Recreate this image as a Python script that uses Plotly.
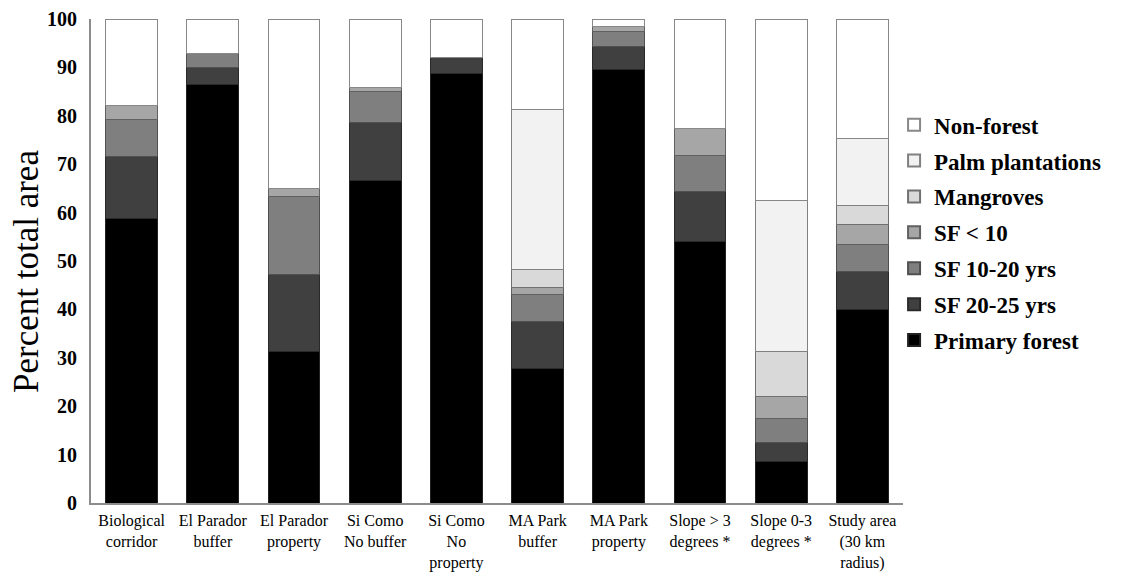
import plotly.graph_objects as go

categories = [
    "Biological<br>corridor", "El Parador<br>buffer", "El Parador<br>property",
    "Si Como<br>No buffer", "Si Como<br>No<br>property", "MA Park<br>buffer",
    "MA Park<br>property", "Slope > 3<br>degrees *", "Slope 0-3<br>degrees *",
    "Study area<br>(30 km<br>radius)",
]

primary_forest   = [58.7, 86.5, 31.4, 66.6, 88.8, 27.7, 89.6, 54.0, 8.6, 39.9]
sf_20_25         = [12.9, 3.4, 15.9, 12.0, 3.2, 9.7, 4.7, 10.3, 3.8, 7.9]
sf_10_20         = [7.7, 3.0, 16.0, 6.4, 0.0, 5.7, 3.2, 7.6, 5.0, 5.7]
sf_lt_10         = [2.9, 0.0, 1.7, 0.9, 0.0, 1.5, 0.9, 5.5, 4.6, 4.1]
mangroves        = [0.0, 0.0, 0.0, 0.0, 0.0, 3.7, 0.0, 0.0, 9.4, 3.8]
palm_plantations = [0.0, 0.0, 0.0, 0.0, 0.0, 33.1, 0.0, 0.0, 31.2, 14.0]
non_forest       = [17.8, 7.1, 35.0, 14.1, 8.0, 18.6, 1.6, 22.6, 37.4, 24.6]

series = [
    ("Primary forest", primary_forest, "#000000", "#222222"),
    ("SF 20-25 yrs", sf_20_25, "#404040", "#2a2a2a"),
    ("SF 10-20 yrs", sf_10_20, "#7f7f7f", "#505050"),
    ("SF < 10", sf_lt_10, "#a6a6a6", "#606060"),
    ("Mangroves", mangroves, "#d9d9d9", "#707070"),
    ("Palm plantations", palm_plantations, "#f2f2f2", "#808080"),
    ("Non-forest", non_forest, "#ffffff", "#888888"),
]

fig = go.Figure()
n = len(series)
for i, (name, vals, color, lc) in enumerate(series):
    fig.add_trace(go.Bar(
        name=name, x=categories, y=vals, legendgroup=name,
        legendrank=1000 + (n - i),
        marker=dict(color=color, line=dict(color=lc, width=1)),
    ))

serif = "Liberation Serif"
W, H = 1115, 564
L, T, R, B = 83, 11, 220, 69
pw, ph = W - L - R, H - T - B
fig.update_layout(
    barmode="stack",
    bargap=0.36,
    width=W, height=H,
    paper_bgcolor="white", plot_bgcolor="white",
    margin=dict(l=L, r=R, t=T, b=B, autoexpand=False),
    font=dict(family=serif, color="black"),
    showlegend=True,
    legend=dict(
        traceorder="grouped",
        x=0.989, xanchor="left", y=0.826, yanchor="top",
        font=dict(family=serif, size=23, color="black", weight="bold"),
        itemsizing="constant",
        tracegroupgap=3,
        bgcolor="rgba(0,0,0,0)",
    ),
    xaxis=dict(
        showline=True, linecolor="#8c8c8c", linewidth=2,
        ticks="", tickfont=dict(family=serif, size=16, color="black"),
        showgrid=False, automargin=False, ticklabelstandoff=2,
    ),
    yaxis=dict(
        range=[0, 100], dtick=10,
        showline=True, linecolor="#8c8c8c", linewidth=2,
        ticks="", showgrid=False, zeroline=False, automargin=False,
        tickfont=dict(family=serif, size=20, color="black", weight="bold"),
        ticklabelstandoff=8,
    ),
    annotations=[dict(
        text="Percent total area", textangle=-90,
        xref="paper", yref="paper",
        x=(18 - L) / pw, y=(T + ph - 264) / ph,
        xanchor="center", yanchor="middle", showarrow=False,
        font=dict(family=serif, size=35, color="black"),
    )],
)

fig.write_html("out.html")
